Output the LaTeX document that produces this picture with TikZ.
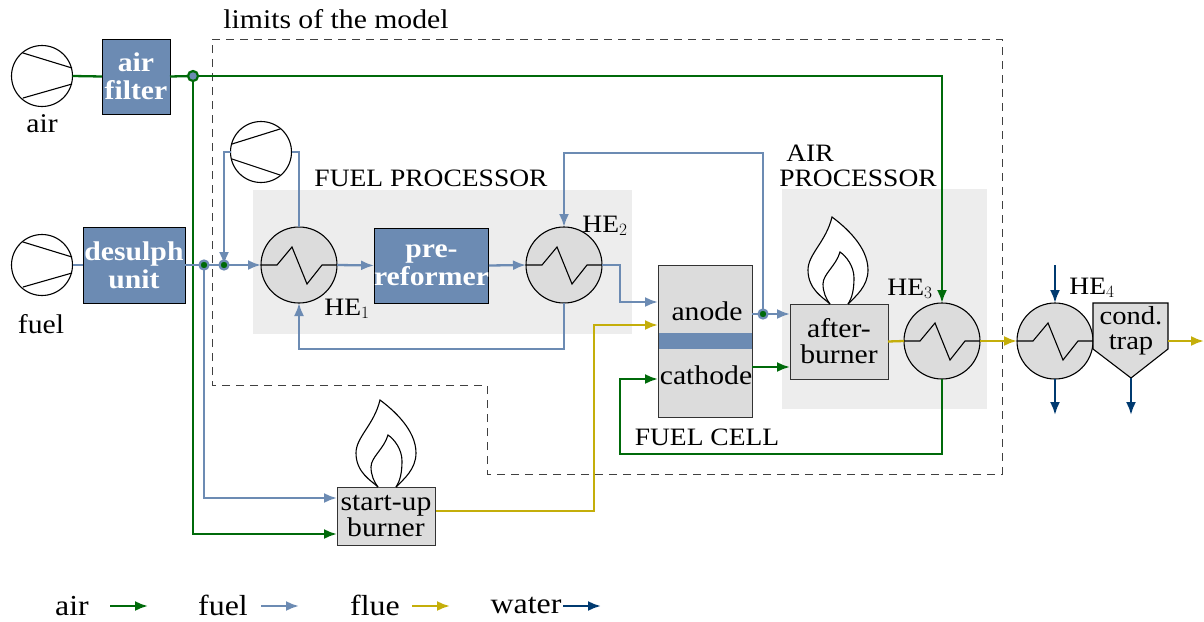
\documentclass[tikz,border=0pt]{standalone}
\usepackage{fontspec}
\setmainfont[FakeStretch=1.1]{Liberation Serif}
\usetikzlibrary{arrows.meta,calc}
\definecolor{airc}{HTML}{006A0A}
\definecolor{fuelc}{HTML}{6C8BB3}
\definecolor{fluec}{HTML}{C4AE0A}
\definecolor{waterc}{HTML}{003A70}
\definecolor{boxc}{HTML}{DCDCDC}
\definecolor{regc}{HTML}{EDEDED}
\newcommand{\fsm}{\fontsize{27}{26}\selectfont}
\newcommand{\fcaps}{\fontsize{25}{28}\selectfont}
\newcommand{\fleg}{\fontsize{29}{28}\selectfont}
\tikzset{
  x=1pt,y=-1pt,
  every node/.style={font=\fsm,inner sep=0pt,outer sep=0pt},
  lab/.style={anchor=base,text=black},
  capslab/.style={anchor=base,text=black,font=\fcaps},
  leglab/.style={anchor=base,text=black,font=\fleg},
  bluebox/.style={draw=black,line width=0.9pt,fill=fuelc,text=white,font=\fontsize{27}{28}\selectfont\bfseries,align=center},
  graybox/.style={draw=black!80,line width=0.9pt,fill=boxc,align=center},
  he/.style={circle,draw=black,line width=1.1pt,fill=boxc,minimum size=76pt},
  comp/.style={circle,draw=black,line width=1.1pt,fill=white,minimum size=61pt},
  thin line/.style={draw=black,line width=1.1pt},
  aline/.style={draw=airc,line width=2.3pt},
  fline/.style={draw=fuelc,line width=2.3pt},
  yline/.style={draw=fluec,line width=2.3pt},
  wline/.style={draw=waterc,line width=2.3pt},
  tip/.style={-{Latex[length=13pt,width=10pt]}},
  jfuel/.style={circle,fill=airc,draw=fuelc,line width=2.2pt,minimum size=9pt},
  jair/.style={circle,fill=fuelc,draw=airc,line width=2.2pt,minimum size=10pt},
  limit/.style={draw=black!75,line width=0.95pt,dash pattern=on 8pt off 6pt},
}
\newcommand{\hezig}[1]{\draw[line width=1.1pt,black] (#1.west) -- ++(16,0) -- ++(15,-18) -- ++(15,37) -- ++(15,-19) -- (#1.east);}
\newcommand{\flame}[2]{\begin{scope}[shift={(#1,#2)}]
  \draw[line width=1.1pt,fill=white] (0,0) .. controls (-6,-6) and (-22,-14) .. (-22,-34) .. controls (-22,-50) and (-4,-62) .. (2,-87) .. controls (14,-78) and (38,-58) .. (38,-34) .. controls (38,-18) and (26,-8) .. (18,0);
  \draw[line width=1.1pt] (0,0) .. controls (-4,-5) and (-7,-12) .. (-7,-20) .. controls (-7,-30) and (6,-38) .. (10,-52) .. controls (16,-48) and (24,-38) .. (24,-26) .. controls (24,-14) and (22,-6) .. (18,0);
\end{scope}}
\begin{document}
\begin{tikzpicture}
\useasboundingbox (0,0) rectangle (1204,621);
% regions
\fill[regc] (253,190) rectangle (632,334);
\fill[regc] (782,189) rectangle (987,409);
% boundary
\draw[limit] (212,39) -- (1002,39) -- (1002,474) -- (487,474) -- (487,385) -- (212,385) -- cycle;
% coordinates
\coordinate (j1) at (193,76);
\coordinate (j2) at (204,265);
\coordinate (j3) at (224,265);
\coordinate (j4) at (763,314);
\coordinate (bendA) at (942,76);
\coordinate (bendB) at (193,534);
\coordinate (bendC) at (204,498);
% nodes
\node[comp] (cair) at (42,76) {};
\node[comp] (cfuel) at (42,265) {};
\node[comp] (cup) at (261,152) {};
\node[bluebox,minimum width=68pt,minimum height=75pt] (filter) at (136,76.5) {air\\filter};
\node[bluebox,minimum width=102pt,minimum height=76pt] (desulph) at (134,265) {desulph\\unit};
\node[bluebox,minimum width=113pt,minimum height=75pt] (prer) at (431.5,265.5) {pre-\\reformer};
\node[he] (he1) at (299,265) {};
\node[he] (he2) at (564,265) {};
\node[he] (he3) at (942,341) {};
\node[he] (he4) at (1055,341) {};
\node[graybox,minimum width=94pt,minimum height=152pt] (fc) at (705,341) {};
\node[draw=none,fill=fuelc,minimum width=93pt,minimum height=16pt] (band) at (705,341) {};
\node[graybox,minimum width=98pt,minimum height=75pt] (ab) at (839,341.5) {after-\\burner};
\node[graybox,minimum width=98pt,minimum height=58pt] (sb) at (386,516) {start-up\\burner};
% flames
\flame{830}{304}
\flame{378}{487}
% trap
\draw[line width=1.1pt,fill=boxc] (1093,303) -- (1168,303) -- (1168,349) -- (1131,378) -- (1093,349) -- cycle;
\node[align=center,font=\fontsize{26}{25}\selectfont] (trap) at (1131,331) {cond.\\trap};
\coordinate (trapb) at (1131,378);
\coordinate (trapr) at (1168,341);
\coordinate (trapout) at (1204,341);
% zigzags and compressors
\hezig{he1}\hezig{he2}\hezig{he3}\hezig{he4}
\draw[thin line] (23,53) -- (72,68) (23,98) -- (72,84);
\draw[thin line] (23,242) -- (72,257) (23,287) -- (72,273);
\draw[thin line] (232,144) -- (280,129) (232,159) -- (280,175);
% air lines
\draw[aline] (cair.east) -- (filter.west);
\draw[aline] (filter.east) -- (j1);
\draw[aline,tip] (j1) -- (bendA) -- (he3.north);
\draw[aline,tip] (j1) -- (bendB) -- (bendB -| sb.west);
\coordinate (catin) at (658,379);
\coordinate (catout) at (752,367);
\draw[aline,tip] (he3.south) |- (620,454) -- (620,379) -- (catin);
\draw[aline,tip] (catout) -- (catout -| ab.west);
% fuel lines
\draw[fline] (cfuel.east) -- (desulph.west);
\draw[fline] (desulph.east) -- (j3);
\draw[fline,tip] (j3) -- (he1.west);
\draw[fline,tip] (j2) -- (bendC) -- (bendC -| sb.west);
\draw[fline] (he1.north) |- (cup.east);
\draw[fline,tip] (cup.west) -| (j3);
\draw[fline,tip] (he1.east) -- (prer.west);
\draw[fline,tip] (prer.east) -- (he2.west);
\coordinate (anin) at (658,302);
\draw[fline,tip] (he2.east) -- (620,265) |- (anin);
\draw[fline,tip] (he2.south) |- (299,349) -- (he1.south);
\coordinate (anout) at (752,314);
\draw[fline,tip] (anout) -- (anout -| ab.west);
\draw[fline,tip] (j4) |- (564,153) -- (he2.north);
% flue lines
\coordinate (anfl) at (658,325);
\draw[yline,tip] (436,511) -| (594,325) -- (anfl);
\draw[yline] (ab.east) -- (he3.west);
\draw[yline,tip] (he3.east) -- (he4.west);
\draw[yline,tip] (trapr) -- (trapout);
% water
\coordinate (win) at (1055,265);
\coordinate (wout) at (1055,415);
\coordinate (twout) at (1131,415);
\draw[wline,tip] (win) -- (he4.north);
\draw[wline,tip] (he4.south) -- (wout);
\draw[wline,tip] (trapb) -- (twout);
% junctions
\node[jair] (n1) at (j1) {};
\node[jfuel] (n2) at (j2) {};
\node[jfuel] (n3) at (j3) {};
\node[jfuel] (n4) at (j4) {};
% labels
\node[lab] (l0) at (336,28) {limits of the model};
\node[lab] (l1) at (42,132) {air};
\node[lab] (l2) at (41,333) {fuel};
\node[capslab] (l3) at (431,186) {FUEL PROCESSOR};
\node[capslab] (l4) at (810,161) {AIR};
\node[capslab] (l5) at (858,186) {PROCESSOR};
\node[capslab] (l6) at (347,315) {HE$_1$};
\node[capslab] (l7) at (605,232) {HE$_2$};
\node[capslab] (l8) at (910,295) {HE$_3$};
\node[capslab] (l9) at (1092,294) {HE$_4$};
\node[lab] (l10) at (707,320) {anode};
\node[lab] (l11) at (706,384) {cathode};
\node[capslab] (l12) at (707,445) {FUEL CELL};
% legend
\node[leglab] (k1) at (72,615) {air};
\node[leglab] (k2) at (223,615) {fuel};
\node[leglab] (k3) at (375,615) {flue};
\node[leglab] (k4) at (526,613) {water};
\coordinate (a1) at (110,606); \coordinate (a2) at (148,606);
\coordinate (b1) at (261,606); \coordinate (b2) at (299,606);
\coordinate (c1) at (412,606); \coordinate (c2) at (450,606);
\coordinate (d1) at (563,606); \coordinate (d2) at (601,606);
\draw[aline,tip] (a1) -- (a2);
\draw[fline,tip] (b1) -- (b2);
\draw[yline,tip] (c1) -- (c2);
\draw[wline,tip] (d1) -- (d2);
\end{tikzpicture}
\end{document}
